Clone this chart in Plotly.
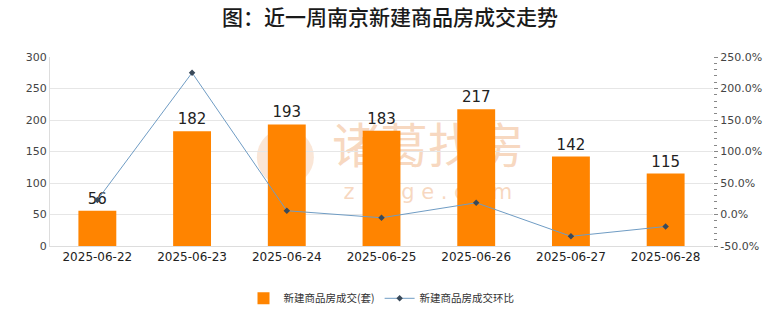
import plotly.graph_objects as go

dates = ["2025-06-22", "2025-06-23", "2025-06-24", "2025-06-25", "2025-06-26", "2025-06-27", "2025-06-28"]
deals = [56, 182, 193, 183, 217, 142, 115]
mom_pct = [23.0, 225.0, 6.0, -5.2, 18.6, -34.6, -19.0]

right_ticks = [-50, 0, 50, 100, 150, 200, 250]
right_labels = ["-50.0%", "0.0%", "50.0%", "100.0%", "150.0%", "200.0%", "250.0%"]

font_main = "Noto Sans CJK SC, DejaVu Sans, sans-serif"
wm_color = "rgba(242,190,150,0.6)"

fig = go.Figure()
fig.add_trace(go.Bar(
    x=dates, y=deals, name="新建商品房成交(套)",
    marker=dict(color="#ff8400", line=dict(width=0)),
    width=0.4,
    text=[str(v) for v in deals], textposition="outside",
    textfont=dict(size=15, color="#222222", family="DejaVu Sans, sans-serif"),
    cliponaxis=False,
    yaxis="y",
))
fig.add_trace(go.Scatter(
    x=dates, y=mom_pct, name="新建商品房成交环比",
    mode="lines+markers",
    line=dict(color="#6f9cc4", width=1),
    marker=dict(symbol="diamond", size=5, color="#3a4a5a"),
    yaxis="y2",
))

# watermark (behind the bars)
fig.add_shape(type="rect", xref="paper", yref="paper", x0=0.42, x1=0.72, y0=0.38, y1=0.64,
              layer="below", line=dict(width=0), fillcolor="rgba(0,0,0,0)",
              label=dict(text="诸葛找房", textposition="middle center",
                         font=dict(size=48, color=wm_color, family=font_main)))
fig.add_shape(type="rect", xref="paper", yref="paper", x0=0.42, x1=0.72, y0=0.22, y1=0.37,
              layer="below", line=dict(width=0), fillcolor="rgba(0,0,0,0)",
              label=dict(text="z h u g e . c o m", textposition="middle center",
                         font=dict(size=21, color=wm_color, family="DejaVu Sans, sans-serif")))
fig.add_shape(type="circle", xref="paper", yref="paper", x0=0.312, x1=0.398, y0=0.32, y1=0.62,
              layer="below", line=dict(width=0), fillcolor="rgba(245,205,175,0.5)")

fig.update_layout(
    width=780, height=328,
    margin=dict(l=50, r=67, t=57, b=82),
    paper_bgcolor="white", plot_bgcolor="white",
    title=dict(text="图：近一周南京新建商品房成交走势", x=0.5, xanchor="center", y=0.945, yanchor="middle",
               font=dict(size=21, color="#1a1a1a", family="Noto Sans CJK SC Medium, Noto Sans CJK SC, sans-serif", weight=500)),
    font=dict(family=font_main, color="#333333"),
    showlegend=True,
    legend=dict(orientation="h", x=0.5, xanchor="center", y=-0.2, yanchor="top", itemwidth=30,
                font=dict(size=10.5, color="#333333", family=font_main)),
    xaxis=dict(type="category", showgrid=False, showline=True, linecolor="#dddddd",
               ticks="", tickfont=dict(size=12, color="#222222", family="DejaVu Sans, sans-serif")),
    yaxis=dict(range=[0, 300], tickvals=[0, 50, 100, 150, 200, 250, 300], showgrid=True, gridcolor="#e6e6e6",
               showline=True, linecolor="#dddddd", zeroline=False, ticks="",
               tickfont=dict(size=11, color="#444444", family="DejaVu Sans, sans-serif")),
    yaxis2=dict(range=[-50, 250], overlaying="y", side="right", tickvals=right_ticks, ticktext=right_labels,
                showgrid=False, zeroline=False, showline=False, ticks="outside", ticklen=4, tickcolor="#888888",
                minor=dict(dtick=10, ticks="outside", ticklen=3, tickcolor="#888888"),
                tickfont=dict(size=11, color="#444444", family="DejaVu Sans, sans-serif")),
)

fig.write_html("out.html")
